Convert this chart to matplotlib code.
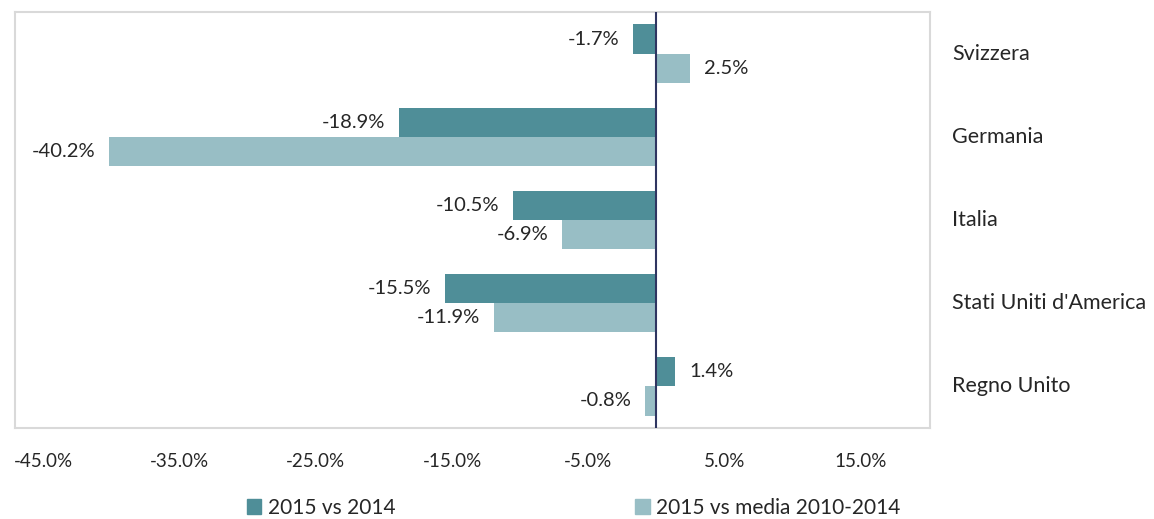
import numpy as np
import matplotlib
matplotlib.use("Agg")
import matplotlib.pyplot as plt
from matplotlib.patches import Patch

# data (top to bottom as drawn)
countries = ["Svizzera", "Germania", "Italia", "Stati Uniti d'America", "Regno Unito"]
vs_2014 = [-1.7, -18.9, -10.5, -15.5, 1.4]
vs_media = [2.5, -40.2, -6.9, -11.9, -0.8]
series_names = ["2015 vs 2014", "2015 vs media 2010-2014"]
xticks = [-45, -35, -25, -15, -5, 5, 15]

DARK = "#4F8E98"
LIGHT = "#98BEC5"
TXT = "#262626"

plt.rcParams["font.family"] = ["Lato", "DejaVu Sans"]

fig = plt.figure(figsize=(11.54, 5.19), dpi=100)
ax = fig.add_axes([15 / 1154, 91 / 519, 915 / 1154, 416 / 519])

y = np.arange(len(countries))
h = 0.35
ax.barh(y - h / 2, vs_2014, height=h, color=DARK, zorder=2)
ax.barh(y + h / 2, vs_media, height=h, color=LIGHT, zorder=2)

# value labels
for vals, off in [(vs_2014, -h / 2), (vs_media, h / 2)]:
    for yi, v in zip(y, vals):
        ax.annotate(f"{v:.1f}%", (v, yi + off),
                    xytext=(-10 if v < 0 else 10, 0), textcoords="offset points",
                    ha="right" if v < 0 else "left", va="center",
                    fontsize=14.5, color=TXT)

ax.set_xlim(-47.1, 20.1)
ax.set_ylim(len(countries) - 0.5, -0.5)
ax.axvline(0, color="#2F3561", lw=1.5, zorder=3)

ax.set_xticks(xticks)
ax.set_xticklabels([f"{t:.1f}%" for t in xticks], fontsize=13.5, color=TXT)
ax.tick_params(axis="x", length=0, pad=18)
ax.set_yticks([])
for s in ax.spines.values():
    s.set_color("#D9D9D9")
    s.set_linewidth(1.5)

# category labels on the right, outside the frame
for yi, c in zip(y, countries):
    ax.text(1.024, yi, c, transform=ax.get_yaxis_transform(),
            ha="left", va="center", fontsize=15.5, color=TXT)

handles = [Patch(color=DARK), Patch(color=LIGHT)]
fig.legend(handles, series_names, loc="center", bbox_to_anchor=(0.497, 0.022),
           ncol=2, frameon=False, fontsize=15, handlelength=0.7, handleheight=0.7,
           handletextpad=0.3, columnspacing=11.5, labelcolor=TXT)

fig.savefig("out.png", dpi=100)
